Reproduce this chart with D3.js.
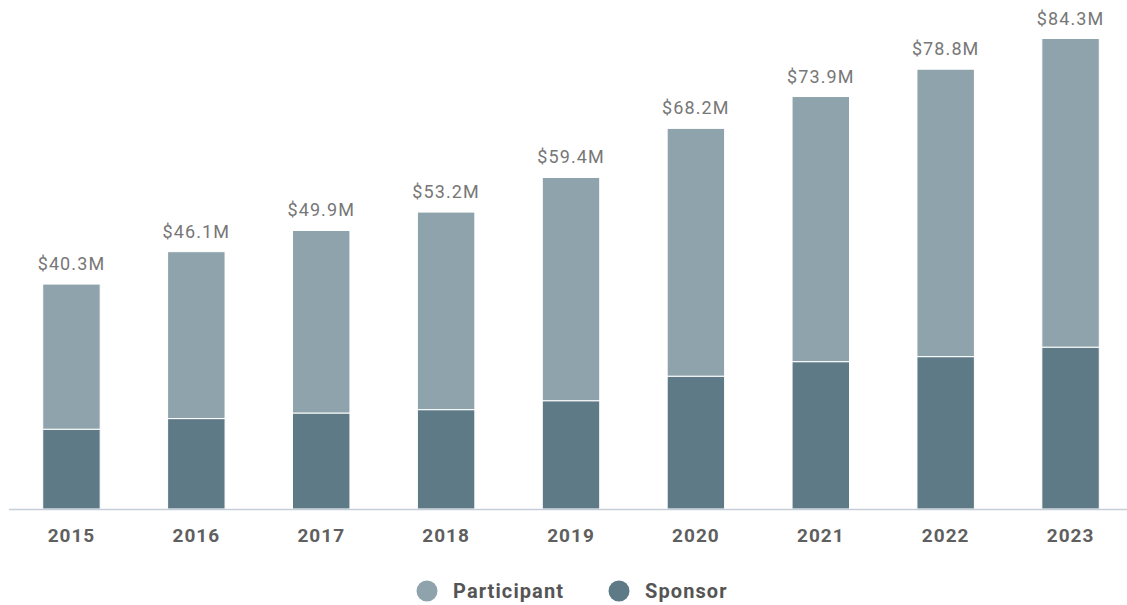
<!DOCTYPE html>
<html>
<head>
<meta charset="utf-8">
<script src="https://cdn.jsdelivr.net/npm/d3@7"></script>
<style>
  body { margin: 0; background: #fff; }
  text { font-family: Roboto, "Noto Sans", sans-serif; }
</style>
</head>
<body>
<div id="chart"></div>
<script>
var years = ["2015", "2016", "2017", "2018", "2019", "2020", "2021", "2022", "2023"];
var sponsor = [14.3, 16.2, 17.2, 17.8, 19.4, 23.8, 26.4, 27.3, 29.0];
var participant = [26.0, 29.9, 32.7, 35.4, 40.0, 44.4, 47.5, 51.5, 55.3];
var totalLabels = ["$40.3M", "$46.1M", "$49.9M", "$53.2M", "$59.4M", "$68.2M", "$73.9M", "$78.8M", "$84.3M"];
var seriesNames = ["Participant", "Sponsor"];
var colors = { Participant: "#8ea3ab", Sponsor: "#5e7a87" };

var svgWidth = 1127;
var svgHeight = 605;

var svg = d3.select("#chart")
  .append("svg")
  .attr("width", svgWidth)
  .attr("height", svgHeight);

var rows = years.map(function(y, i) {
  return { year: y, Sponsor: sponsor[i], Participant: participant[i], label: totalLabels[i] };
});

var xScale = d3.scaleBand()
  .domain(years)
  .range([9, 1133])
  .paddingInner(0.54)
  .paddingOuter(0.27);

var yScale = d3.scaleLinear()
  .domain([0, 84.3])
  .range([509, 38.5]);

var stack = d3.stack().keys(["Sponsor", "Participant"]);
var layers = stack(rows);

svg.append("g")
  .selectAll("g")
  .data(layers)
  .enter()
  .append("g")
  .attr("fill", d => colors[d.key])
  .selectAll("rect")
  .data(d => d)
  .enter()
  .append("rect")
  .attr("x", d => xScale(d.data.year))
  .attr("width", xScale.bandwidth())
  .attr("y", d => yScale(d[1]))
  .attr("height", d => yScale(d[0]) - yScale(d[1]))
  .attr("stroke", "#fff")
  .attr("stroke-width", 1);

// baseline
svg.append("line")
  .attr("x1", 9)
  .attr("x2", svgWidth)
  .attr("y1", yScale(0) + 0.5)
  .attr("y2", yScale(0) + 0.5)
  .attr("stroke", "#c5cdd8")
  .attr("stroke-width", 1.5);

// total labels
svg.append("g")
  .selectAll("text")
  .data(rows)
  .enter()
  .append("text")
  .attr("x", d => xScale(d.year) + xScale.bandwidth() / 2)
  .attr("y", d => yScale(d.Sponsor + d.Participant) - 14)
  .attr("text-anchor", "middle")
  .attr("font-size", "18px")
  .attr("letter-spacing", "1.1px")
  .attr("fill", "#777")
  .text(d => d.label);

// x axis labels
var xAxis = d3.axisBottom(xScale).tickSize(0).tickPadding(0);
var axisG = svg.append("g")
  .attr("transform", "translate(0, 542)")
  .call(xAxis);
axisG.select(".domain").remove();
axisG.selectAll("text")
  .attr("dy", 0)
  .attr("font-size", "19px")
  .attr("font-weight", "bold")
  .attr("letter-spacing", "1px")
  .attr("font-family", "Roboto, sans-serif")
  .attr("fill", "#5f5f5f");

// legend
var legendX = [427, 619];
var legend = svg.append("g")
  .selectAll("g")
  .data(seriesNames)
  .enter()
  .append("g")
  .attr("transform", (d, i) => `translate(${legendX[i]}, 591)`);

legend.append("circle")
  .attr("r", 10.5)
  .attr("fill", d => colors[d]);

legend.append("text")
  .attr("x", 26)
  .attr("y", 7)
  .attr("font-size", "20px")
  .attr("font-weight", "bold")
  .attr("letter-spacing", "1.1px")
  .attr("fill", "#555")
  .text(d => d);
</script>
</body>
</html>
